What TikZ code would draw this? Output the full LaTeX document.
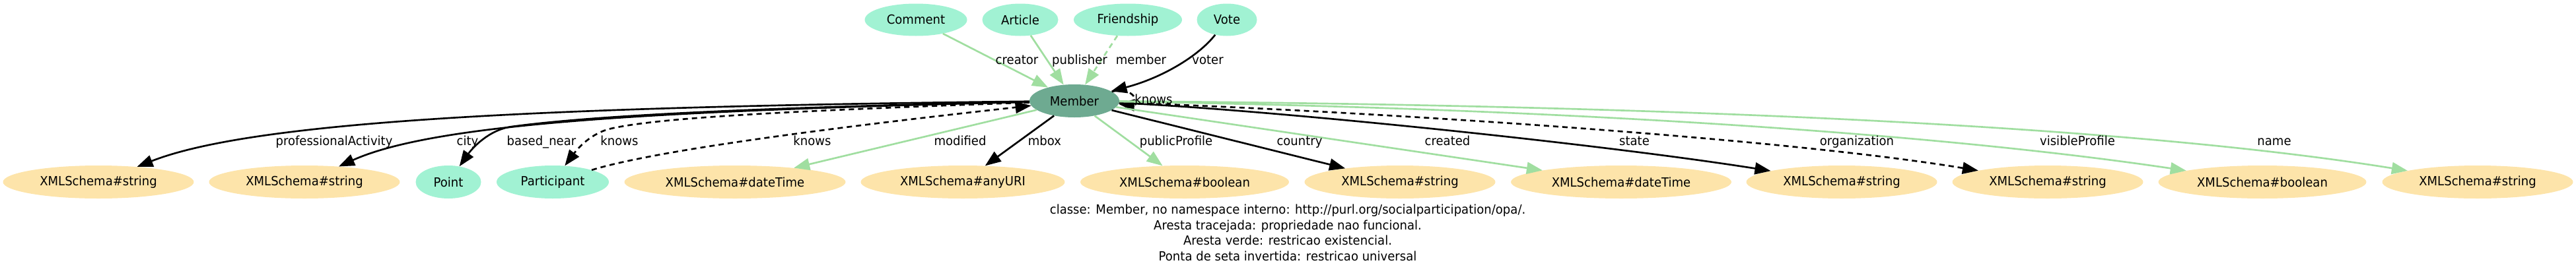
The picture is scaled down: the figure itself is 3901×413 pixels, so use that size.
\documentclass[tikz,border=0pt]{standalone}
\usepackage{fontspec}
\setmainfont{DejaVu Sans}[FakeStretch=0.94]
\usetikzlibrary{shapes.geometric,arrows.meta}
\definecolor{clsfill}{RGB}{161,242,211}
\definecolor{memfill}{RGB}{110,170,145}
\definecolor{litfill}{RGB}{253,228,170}
\definecolor{edgegreen}{RGB}{160,222,160}
\begin{document}
\begin{tikzpicture}[x=1pt,y=-1pt,
  every node/.style={font=\fontsize{19.2}{23}\selectfont, text=black},
  cls/.style={ellipse, fill=clsfill, inner sep=0pt, minimum height=49pt},
  memb/.style={ellipse, fill=memfill, inner sep=0pt, minimum height=50pt, minimum width=136pt},
  lit/.style={ellipse, fill=litfill, inner sep=0pt, minimum height=50pt},
  lbl/.style={anchor=base, inner sep=0pt},
  blk/.style={draw=black, line width=2.67pt, -{Triangle[length=24pt,width=18pt]}},
  grn/.style={draw=edgegreen, line width=2.67pt, -{Triangle[length=24pt,width=18pt]}},
  dsh/.style={dash pattern=on 8pt off 6pt}]
\useasboundingbox (0,0) rectangle (3901,413);
% top row
\node[cls, minimum width=155pt] (comment) at (1387,30) {Comment};
\node[cls, minimum width=115pt] (article) at (1545,30) {Article};
\node[cls, minimum width=164pt] (friendship) at (1708,30) {Friendship};
\node[cls, minimum width=91pt] (vote) at (1858,30) {Vote};
% centre
\node[memb] (member) at (1627,153) {Member};
% bottom row
\node[lit, minimum width=289pt] (s1) at (149,276) {XMLSchema\#string};
\node[lit, minimum width=289pt] (s2) at (461,276) {XMLSchema\#string};
\node[cls, minimum width=99pt, minimum height=50pt] (point) at (679,276) {Point};
\node[cls, minimum width=170pt, minimum height=50pt] (participant) at (837,276) {Participant};
\node[lit, minimum width=335pt] (dt1) at (1113,276) {XMLSchema\#dateTime};
\node[lit, minimum width=309pt] (anyuri) at (1458,276) {XMLSchema\#anyURI};
\node[lit, minimum width=316pt] (bool1) at (1794,276) {XMLSchema\#boolean};
\node[lit, minimum width=289pt] (s3) at (2120,276) {XMLSchema\#string};
\node[lit, minimum width=334pt] (dt2) at (2455,276) {XMLSchema\#dateTime};
\node[lit, minimum width=289pt] (s4) at (2789,276) {XMLSchema\#string};
\node[lit, minimum width=289pt] (s5) at (3101,276) {XMLSchema\#string};
\node[lit, minimum width=315pt] (bool2) at (3426,276) {XMLSchema\#boolean};
\node[lit, minimum width=289pt] (s6) at (3752,276) {XMLSchema\#string};
% edges into Member
\draw[grn] (comment) -- (member);
\draw[grn] (article) -- (member);
\draw[grn,dsh] (friendship) -- (member);
\draw[blk] (vote) .. controls (1815,85) and (1760,118) .. (member);
\draw[blk,dsh] (member) .. controls (1720,130) and (1725,160) .. (member);
% edges out of Member, left side
\draw[blk] (member) .. controls (800,162) and (380,185) .. (s1);
\draw[blk] (member) .. controls (1000,168) and (660,186) .. (s2);
\draw[blk] (member) .. controls (1150,163) and (900,175) .. (775,192) .. controls (740,196.8) and (715,225) .. (point);
\draw[blk,dsh] (member) .. controls (1200,168) and (1000,178) .. (925,195) .. controls (895,202) and (875,225) .. (participant);
\draw[blk,dsh] (participant) .. controls (980,232) and (1200,200) .. (member);
\draw[grn] (member) -- (dt1);
\draw[blk] (member) -- (anyuri);
\draw[grn] (member) -- (bool1);
% right side
\draw[blk] (member) -- (s3);
\draw[grn] (member) -- (dt2);
\draw[blk] (member) .. controls (1900,165) and (2400,215) .. (s4);
\draw[blk,dsh] (member) .. controls (2100,170) and (2700,210) .. (s5);
\draw[grn] (member) .. controls (2400,165) and (2950,205) .. (bool2);
\draw[grn] (member) .. controls (2600,160) and (3250,195) .. (s6);
% edge labels
\node[lbl] (lcreator) at (1540,97) {creator};
\node[lbl] (lpublisher) at (1635,97) {publisher};
\node[lbl] (lmember) at (1728,97) {member};
\node[lbl] (lvoter) at (1829,97) {voter};
\node[lbl] (lself) at (1747,157) {knows};
\node[lbl] (lprof) at (506,220) {professionalActivity};
\node[lbl] (lcity) at (708,220) {city};
\node[lbl] (lbased) at (820,220) {based\_near};
\node[lbl] (lknowsa) at (938,220) {knows};
\node[lbl] (lknowsb) at (1230,220) {knows};
\node[lbl] (lmod) at (1454,220) {modified};
\node[lbl] (lmbox) at (1582,220) {mbox};
\node[lbl] (lpub) at (1781,220) {publicProfile};
\node[lbl] (lcountry) at (1968,220) {country};
\node[lbl] (lcreated) at (2192,220) {created};
\node[lbl] (lstate) at (2475,220) {state};
\node[lbl] (lorg) at (2812,220) {organization};
\node[lbl] (lvis) at (3146,220) {visibleProfile};
\node[lbl] (lname) at (3444,220) {name};
% legend
\node[lbl] (leg1) at (1950,324.5) {classe: Member, no namespace interno: http://purl.org/socialparticipation/opa/.};
\node[lbl] (leg2) at (1950,348) {Aresta tracejada: propriedade nao funcional.};
\node[lbl] (leg3) at (1950,371.5) {Aresta verde: restricao existencial.};
\node[lbl] (leg4) at (1950,395) {Ponta de seta invertida: restricao universal};
\end{tikzpicture}
\end{document}
